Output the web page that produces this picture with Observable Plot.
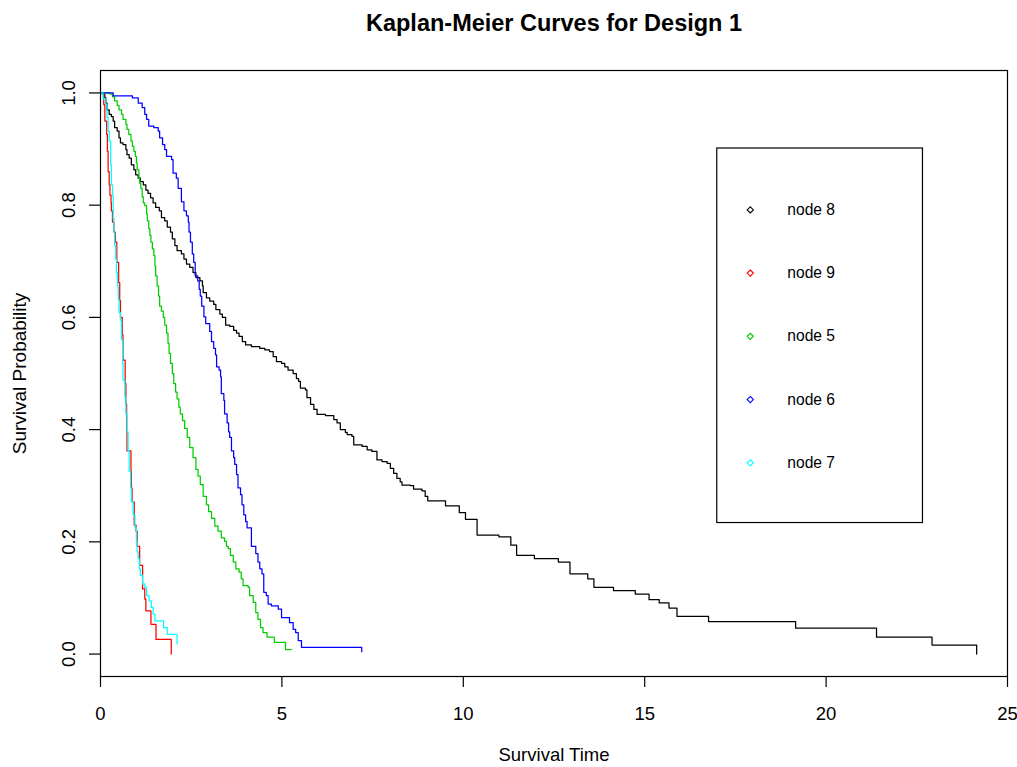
<!DOCTYPE html>
<html>
<head>
<meta charset="utf-8">
<script src="https://cdn.jsdelivr.net/npm/d3@7"></script>
<script src="https://cdn.jsdelivr.net/npm/@observablehq/plot@0.6"></script>
<style>
  html, body { margin: 0; padding: 0; background: #fff; }
</style>
</head>
<body>
<div id="chart"></div>
<script>
// ---- data: Kaplan-Meier step points [time, survival] ----
const node8 = [[0,1],[0.07,0.997],[0.12,0.991],[0.15,0.982],[0.18,0.970],[0.24,0.962],[0.30,0.958],[0.35,0.950],[0.39,0.938],[0.46,0.932],[0.51,0.920],[0.55,0.911],[0.62,0.908],[0.70,0.899],[0.73,0.890],[0.79,0.884],[0.85,0.872],[0.92,0.863],[0.97,0.854],[1.04,0.848],[1.10,0.842],[1.18,0.836],[1.25,0.827],[1.31,0.821],[1.38,0.813],[1.45,0.804],[1.52,0.796],[1.62,0.790],[1.68,0.778],[1.77,0.772],[1.84,0.761],[1.93,0.752],[1.98,0.740],[2.05,0.728],[2.11,0.719],[2.23,0.713],[2.30,0.704],[2.37,0.695],[2.46,0.689],[2.55,0.680],[2.63,0.671],[2.74,0.665],[2.81,0.656],[2.83,0.644],[2.92,0.635],[3.01,0.629],[3.12,0.623],[3.18,0.614],[3.29,0.606],[3.36,0.600],[3.45,0.586],[3.56,0.584],[3.67,0.577],[3.75,0.572],[3.82,0.566],[3.91,0.557],[4.00,0.551],[4.16,0.548],[4.39,0.545],[4.53,0.542],[4.66,0.539],[4.76,0.530],[4.85,0.521],[4.99,0.518],[5.08,0.512],[5.17,0.506],[5.31,0.500],[5.40,0.491],[5.46,0.486],[5.51,0.474],[5.65,0.471],[5.69,0.457],[5.79,0.445],[5.88,0.436],[5.97,0.427],[6.20,0.425],[6.43,0.418],[6.52,0.412],[6.61,0.400],[6.75,0.395],[6.80,0.391],[6.93,0.388],[6.98,0.373],[7.21,0.370],[7.35,0.364],[7.48,0.361],[7.62,0.346],[7.76,0.343],[7.90,0.340],[7.99,0.331],[8.08,0.322],[8.17,0.313],[8.26,0.307],[8.31,0.301],[8.54,0.300],[8.63,0.294],[8.86,0.291],[8.95,0.281],[9.02,0.273],[9.51,0.264],[9.89,0.252],[10.06,0.240],[10.38,0.212],[10.98,0.209],[11.31,0.194],[11.47,0.176],[11.96,0.170],[12.62,0.164],[12.94,0.143],[13.43,0.134],[13.60,0.119],[14.14,0.113],[14.74,0.107],[15.12,0.097],[15.40,0.091],[15.67,0.082],[15.89,0.067],[16.76,0.058],[19.16,0.046],[21.39,0.030],[22.92,0.016],[24.15,0.0]];

const node9 = [[0,1],[0.09,0.979],[0.12,0.950],[0.17,0.926],[0.19,0.896],[0.21,0.860],[0.24,0.836],[0.26,0.818],[0.29,0.804],[0.30,0.790],[0.33,0.770],[0.37,0.752],[0.41,0.734],[0.45,0.698],[0.50,0.662],[0.53,0.630],[0.55,0.600],[0.60,0.569],[0.62,0.524],[0.68,0.482],[0.70,0.446],[0.72,0.396],[0.73,0.362],[0.84,0.326],[0.85,0.296],[0.87,0.271],[0.93,0.230],[0.98,0.219],[1.01,0.192],[1.08,0.158],[1.16,0.116],[1.22,0.098],[1.25,0.077],[1.39,0.053],[1.53,0.026],[1.95,0.0]];

const node5 = [[0,1],[0.26,0.998],[0.33,0.993],[0.39,0.986],[0.46,0.978],[0.51,0.970],[0.58,0.962],[0.62,0.953],[0.70,0.944],[0.73,0.935],[0.78,0.926],[0.84,0.914],[0.88,0.905],[0.92,0.896],[0.96,0.887],[0.99,0.875],[1.01,0.863],[1.06,0.848],[1.08,0.839],[1.11,0.830],[1.15,0.815],[1.18,0.804],[1.22,0.799],[1.27,0.784],[1.29,0.772],[1.33,0.758],[1.36,0.746],[1.39,0.734],[1.43,0.722],[1.47,0.710],[1.50,0.692],[1.52,0.674],[1.56,0.656],[1.60,0.638],[1.63,0.620],[1.68,0.611],[1.73,0.600],[1.77,0.586],[1.82,0.572],[1.86,0.554],[1.89,0.536],[1.93,0.518],[1.98,0.500],[2.02,0.482],[2.07,0.467],[2.11,0.455],[2.16,0.440],[2.20,0.428],[2.26,0.416],[2.32,0.402],[2.39,0.386],[2.46,0.368],[2.55,0.350],[2.63,0.329],[2.69,0.317],[2.75,0.302],[2.83,0.281],[2.92,0.266],[2.98,0.254],[3.06,0.242],[3.15,0.228],[3.24,0.219],[3.33,0.207],[3.42,0.201],[3.47,0.192],[3.52,0.188],[3.58,0.176],[3.66,0.164],[3.73,0.152],[3.82,0.146],[3.88,0.134],[3.93,0.122],[4.07,0.119],[4.11,0.104],[4.21,0.092],[4.28,0.074],[4.34,0.062],[4.41,0.047],[4.48,0.038],[4.59,0.030],[4.79,0.021],[5.10,0.008],[5.26,0.008]];

const node6 = [[0,1],[0.35,0.995],[0.88,0.991],[1.04,0.982],[1.15,0.974],[1.22,0.962],[1.27,0.953],[1.33,0.941],[1.47,0.938],[1.59,0.932],[1.63,0.920],[1.71,0.908],[1.77,0.899],[1.82,0.887],[1.96,0.881],[2.00,0.857],[2.09,0.848],[2.14,0.830],[2.23,0.806],[2.30,0.790],[2.37,0.781],[2.42,0.770],[2.44,0.752],[2.48,0.734],[2.53,0.713],[2.57,0.698],[2.61,0.674],[2.68,0.665],[2.72,0.650],[2.75,0.638],[2.79,0.620],[2.85,0.601],[2.90,0.589],[3.01,0.575],[3.06,0.557],[3.12,0.545],[3.17,0.533],[3.20,0.512],[3.27,0.506],[3.31,0.494],[3.33,0.464],[3.40,0.452],[3.42,0.428],[3.49,0.412],[3.53,0.396],[3.56,0.386],[3.61,0.362],[3.67,0.350],[3.70,0.338],[3.75,0.320],[3.79,0.296],[3.86,0.284],[3.90,0.266],[3.95,0.248],[4.00,0.236],[4.04,0.225],[4.16,0.192],[4.28,0.179],[4.34,0.164],[4.39,0.152],[4.45,0.143],[4.50,0.110],[4.57,0.104],[4.62,0.089],[4.71,0.086],[4.90,0.080],[4.99,0.065],[5.21,0.056],[5.31,0.044],[5.38,0.038],[5.45,0.024],[5.54,0.012],[7.20,0.004]];

const node7 = [[0,1],[0.07,0.990],[0.15,0.979],[0.18,0.956],[0.21,0.932],[0.24,0.914],[0.28,0.872],[0.30,0.836],[0.33,0.818],[0.35,0.776],[0.37,0.752],[0.39,0.728],[0.42,0.704],[0.44,0.680],[0.47,0.656],[0.49,0.632],[0.51,0.609],[0.55,0.595],[0.58,0.560],[0.61,0.518],[0.62,0.488],[0.67,0.458],[0.70,0.428],[0.73,0.396],[0.76,0.362],[0.79,0.326],[0.83,0.296],[0.85,0.272],[0.90,0.248],[0.95,0.225],[0.99,0.201],[1.01,0.182],[1.04,0.170],[1.07,0.152],[1.10,0.140],[1.16,0.125],[1.22,0.119],[1.27,0.104],[1.34,0.095],[1.40,0.083],[1.45,0.071],[1.50,0.059],[1.74,0.047],[1.84,0.035],[2.11,0.018]];

const seriesNames  = ["node 8", "node 9", "node 5", "node 6", "node 7"];
const seriesData   = [node8, node9, node5, node6, node7];
const seriesColors = ["#000000", "#ff0000", "#00cd00", "#0000ff", "#00ffff"];

const xTicks = [0, 5, 10, 15, 20, 25];
const yTicks = [0, 0.2, 0.4, 0.6, 0.8, 1.0];

const title  = "Kaplan-Meier Curves for Design 1";
const xLabel = "Survival Time";
const yLabel = "Survival Probability";

// ---- legend layout (data units, like R's legend(x, y, ...)) ----
const legendBox = {x1: 17.0, x2: 22.67, y1: 0.2335, y2: 0.901};
const legendSymX = 17.91, legendTextX = 18.93, legendFirstY = 0.7916, legendStep = 0.1127;
const legendRows = seriesNames.map((name, i) => ({name, color: seriesColors[i], y: legendFirstY - i * legendStep}));

const font = "'Liberation Sans', Arial, sans-serif";
const fs = 18.5;

const chart = Plot.plot({
  width: 1017,
  height: 767,
  marginLeft: 100,
  marginRight: 10,
  marginTop: 70,
  marginBottom: 91,
  style: {fontFamily: font, background: "#ffffff", color: "#000"},
  x: {domain: [0, 25], axis: null},
  y: {domain: [-0.04, 1.04], axis: null},
  color: {type: "identity"},
  marks: [
    // curves
    ...seriesData.map((data, i) => Plot.line(data, {
      x: d => d[0], y: d => d[1], curve: "step-after",
      stroke: seriesColors[i], strokeWidth: 1.25
    })),
    // legend
    Plot.rect([legendBox], {x1: "x1", x2: "x2", y1: "y1", y2: "y2", fill: "white", stroke: "black", strokeWidth: 1.2}),
    Plot.dot(legendRows, {x: () => legendSymX, y: "y", symbol: "diamond2", r: 2.8, stroke: "color", strokeWidth: 1.1}),
    Plot.text(legendRows, {x: () => legendTextX, y: "y", text: "name", textAnchor: "start", lineAnchor: "middle", fontSize: 15.6, fill: "#000"}),
    // box
    Plot.frame({stroke: "black", strokeWidth: 1.2}),
    // x axis
    Plot.axisX({ticks: xTicks, tickSize: 11, tickPadding: 19, fontSize: fs, label: null, tickFormat: d => String(d), strokeWidth: 1.2}),
    // y axis ticks + rotated labels
    Plot.axisY({ticks: yTicks, tickSize: 11, tickFormat: () => "", label: null, strokeWidth: 1.2}),
    Plot.text(yTicks, {y: d => d, text: d => d.toFixed(1), frameAnchor: "left", dx: -31, rotate: -90, textAnchor: "middle", lineAnchor: "middle", fontSize: fs}),
    // axis titles
    Plot.text([xLabel], {frameAnchor: "bottom", dy: 79, textAnchor: "middle", lineAnchor: "middle", fontSize: fs}),
    Plot.text([yLabel], {frameAnchor: "left", dx: -81, rotate: -90, textAnchor: "middle", lineAnchor: "middle", fontSize: 19}),
    // title
    Plot.text([title], {frameAnchor: "top", dy: -47, textAnchor: "middle", lineAnchor: "middle", fontSize: 23.5, fontWeight: "bold"})
  ]
});

document.getElementById("chart").appendChild(chart);
</script>
</body>
</html>
